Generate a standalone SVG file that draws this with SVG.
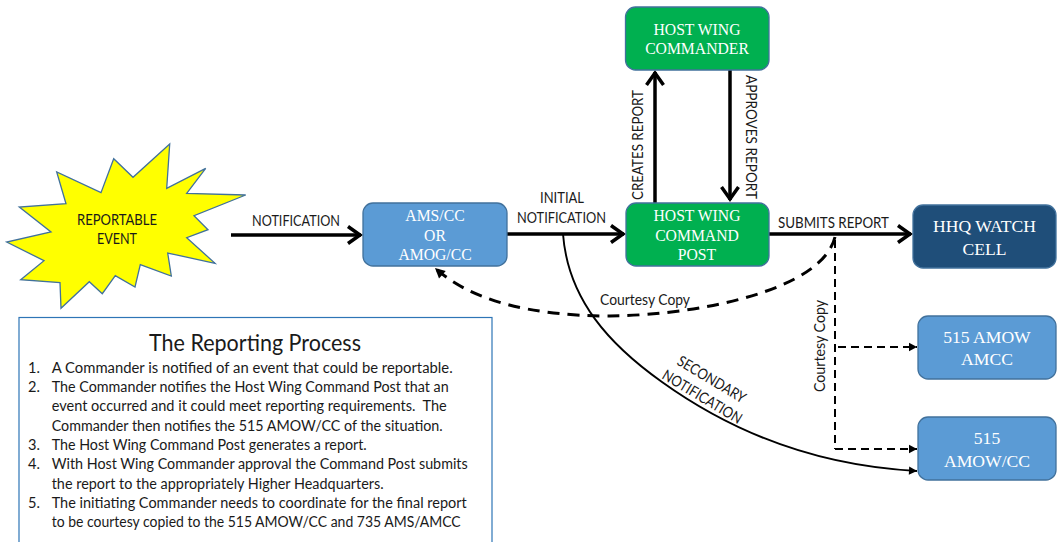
<svg xmlns="http://www.w3.org/2000/svg" width="1061" height="542" viewBox="0 0 1061 542">
<style>
text{font-family:Lato,"Open Sans",sans-serif;fill:#1a1a1a;font-size:15px}
.n{font-family:"Liberation Serif","Times New Roman",serif;fill:#fff;text-anchor:middle;font-size:15.7px}
.b{font-family:"Liberation Serif","Times New Roman",serif;fill:#fff;text-anchor:middle;font-size:17.6px}
.c{text-anchor:middle}
.box{stroke:#41719c;stroke-width:1.3}
.blue{fill:#5b9bd5}.green{fill:#00b050}.navy{fill:#1f4e79}
.thick{fill:none;stroke:#000;stroke-width:3.5}
.curve{fill:none;stroke:#000;stroke-width:1.900}
.dash{fill:none;stroke:#000;stroke-width:2;stroke-dasharray:8 5}
.dashthick{fill:none;stroke:#000;stroke-width:3;stroke-dasharray:12 8}
.l{font-size:14.6px}
</style>
<defs>
<marker id="open" markerUnits="userSpaceOnUse" markerWidth="20" markerHeight="24" viewBox="-16 -12 20 24" refX="1" refY="0" orient="auto"><path d="M-12 -8.500L0 0L-12 8.500" fill="none" stroke="#000" stroke-width="3.500"/></marker>
<marker id="tri" markerUnits="userSpaceOnUse" markerWidth="10" markerHeight="10" viewBox="0 0 10 10" refX="9" refY="5" orient="auto"><path d="M1 0.800L9 5L1 9.200Z" fill="#000"/></marker>
<marker id="triL" markerUnits="userSpaceOnUse" markerWidth="12" markerHeight="12" viewBox="0 0 12 12" refX="11" refY="6" orient="auto"><path d="M1 1L11 6L1 11Z" fill="#000"/></marker>
</defs>
<g id="connectors">
<path class="thick" marker-end="url(#open)" d="M231 235H361"/>
<path class="thick" marker-end="url(#open)" d="M507 234H624"/>
<path class="thick" marker-end="url(#open)" d="M655 203V72"/>
<path class="thick" marker-end="url(#open)" d="M730 70V200"/>
<path class="thick" marker-end="url(#open)" d="M769 234H911"/>
<path class="curve" marker-end="url(#tri)" d="M563 234C568 300 610 345 662 382C715 420 800 465 917 471"/>
<path class="dashthick" marker-end="url(#triL)" d="M835 237C822 290 700 315 610 316C530 316 470 300 435 268"/>
<path class="dash" d="M835 240V449"/>
<path class="dash" marker-end="url(#tri)" d="M835 449H917"/>
<path class="dash" marker-end="url(#tri)" d="M838 347H917"/>
</g>
<g id="reportable-event">
<polygon points="169.700,144 133,177.300 113.700,158.700 101,192.700 56.700,172 66,203.700 19.300,207 51,232 6.700,242 44,260.700 20.700,279.700 60,282.700 61,308.300 89.300,281.700 102.300,293.700 115.300,275.700 135,287 140.300,264.700 171.300,276 167.700,253 215,263.300 186.700,237.700 208,229.700 194,215.700 245.700,195 186.700,193.300 205.700,168.300 166.700,188.300" fill="#ff0" stroke="#41719c" stroke-width="1.300"/>
<text class="c" x="117" y="225" textLength="80" lengthAdjust="spacingAndGlyphs">REPORTABLE</text>
<text class="c" x="117" y="244" textLength="40" lengthAdjust="spacingAndGlyphs">EVENT</text>
</g>
<g id="ams-cc">
<rect class="box blue" x="363" y="203" width="144" height="63" rx="10"/>
<text class="n" x="435" y="221">AMS/CC</text><text class="n" x="435" y="241">OR</text><text class="n" x="435" y="260">AMOG/CC</text>
</g>
<g id="host-wing-commander">
<rect class="box green" x="625.500" y="7" width="143.500" height="63" rx="10"/>
<text class="n" x="697" y="35">HOST WING</text><text class="n" x="697" y="54">COMMANDER</text>
</g>
<g id="host-wing-command-post">
<rect class="box green" x="626" y="203" width="143" height="63" rx="10"/>
<text class="n" x="697" y="221">HOST WING</text><text class="n" x="697" y="241">COMMAND</text><text class="n" x="697" y="260">POST</text>
</g>
<g id="hhq-watch-cell">
<rect class="box navy" x="913" y="205" width="143" height="63" rx="10"/>
<text class="b" x="984.500" y="232">HHQ WATCH</text><text class="b" x="984.500" y="255">CELL</text>
</g>
<g id="amow-amcc">
<rect class="box blue" x="918" y="316" width="138" height="63" rx="10"/>
<text class="b" x="987" y="343">515 AMOW</text><text class="b" x="987" y="365">AMCC</text>
</g>
<g id="amow-cc">
<rect class="box blue" x="918" y="417" width="138" height="63" rx="10"/>
<text class="b" x="987" y="444">515</text><text class="b" x="987" y="467">AMOW/CC</text>
</g>
<g id="labels">
<text x="252" y="226" textLength="88" lengthAdjust="spacingAndGlyphs">NOTIFICATION</text>
<text class="c" x="562" y="203" textLength="44" lengthAdjust="spacingAndGlyphs">INITIAL</text>
<text x="517" y="223" textLength="89" lengthAdjust="spacingAndGlyphs">NOTIFICATION</text>
<text x="778" y="228" textLength="111" lengthAdjust="spacingAndGlyphs">SUBMITS REPORT</text>
<text x="600" y="305" textLength="90" lengthAdjust="spacingAndGlyphs">Courtesy Copy</text>
<text transform="translate(643 200) rotate(-90)" textLength="110" lengthAdjust="spacingAndGlyphs">CREATES REPORT</text>
<text transform="translate(746 75) rotate(90)" textLength="124" lengthAdjust="spacingAndGlyphs">APPROVES REPORT</text>
<text transform="translate(825 392) rotate(-90)" textLength="92" lengthAdjust="spacingAndGlyphs">Courtesy Copy</text>
<text transform="translate(676 364) rotate(31)" textLength="77" lengthAdjust="spacingAndGlyphs">SECONDARY</text>
<text transform="translate(661 378) rotate(31)" textLength="90" lengthAdjust="spacingAndGlyphs">NOTIFICATION</text>
</g>
<g id="reporting-process">
<rect x="19" y="317.500" width="473" height="240" fill="#fff" stroke="#2e75b6" stroke-width="1.200"/>
<text x="149" y="351" style="font-size:23px" textLength="212" lengthAdjust="spacingAndGlyphs">The Reporting Process</text>
<text class="l" x="28" y="373">1.</text><text class="l" x="51.700" y="373" textLength="401" lengthAdjust="spacingAndGlyphs">A Commander is notified of an event that could be reportable.</text>
<text class="l" x="28" y="392">2.</text><text class="l" x="51.700" y="392" textLength="397" lengthAdjust="spacingAndGlyphs">The Commander notifies the Host Wing Command Post that an</text>
<text class="l" x="51.700" y="411" textLength="395" lengthAdjust="spacingAndGlyphs" xml:space="preserve">event occurred and it could meet reporting requirements.  The</text>
<text class="l" x="51.700" y="431" textLength="391" lengthAdjust="spacingAndGlyphs">Commander then notifies the 515 AMOW/CC of the situation.</text>
<text class="l" x="28" y="450">3.</text><text class="l" x="51.700" y="450" textLength="315" lengthAdjust="spacingAndGlyphs">The Host Wing Command Post generates a report.</text>
<text class="l" x="28" y="469">4.</text><text class="l" x="51.700" y="469" textLength="416" lengthAdjust="spacingAndGlyphs">With Host Wing Commander approval the Command Post submits</text>
<text class="l" x="51.700" y="489" textLength="332" lengthAdjust="spacingAndGlyphs">the report to the appropriately Higher Headquarters.</text>
<text class="l" x="28" y="508">5.</text><text class="l" x="51.700" y="508" textLength="415" lengthAdjust="spacingAndGlyphs">The initiating Commander needs to coordinate for the final report</text>
<text class="l" x="51.700" y="527" textLength="409" lengthAdjust="spacingAndGlyphs">to be courtesy copied to the 515 AMOW/CC and 735 AMS/AMCC</text>
</g>
</svg>
